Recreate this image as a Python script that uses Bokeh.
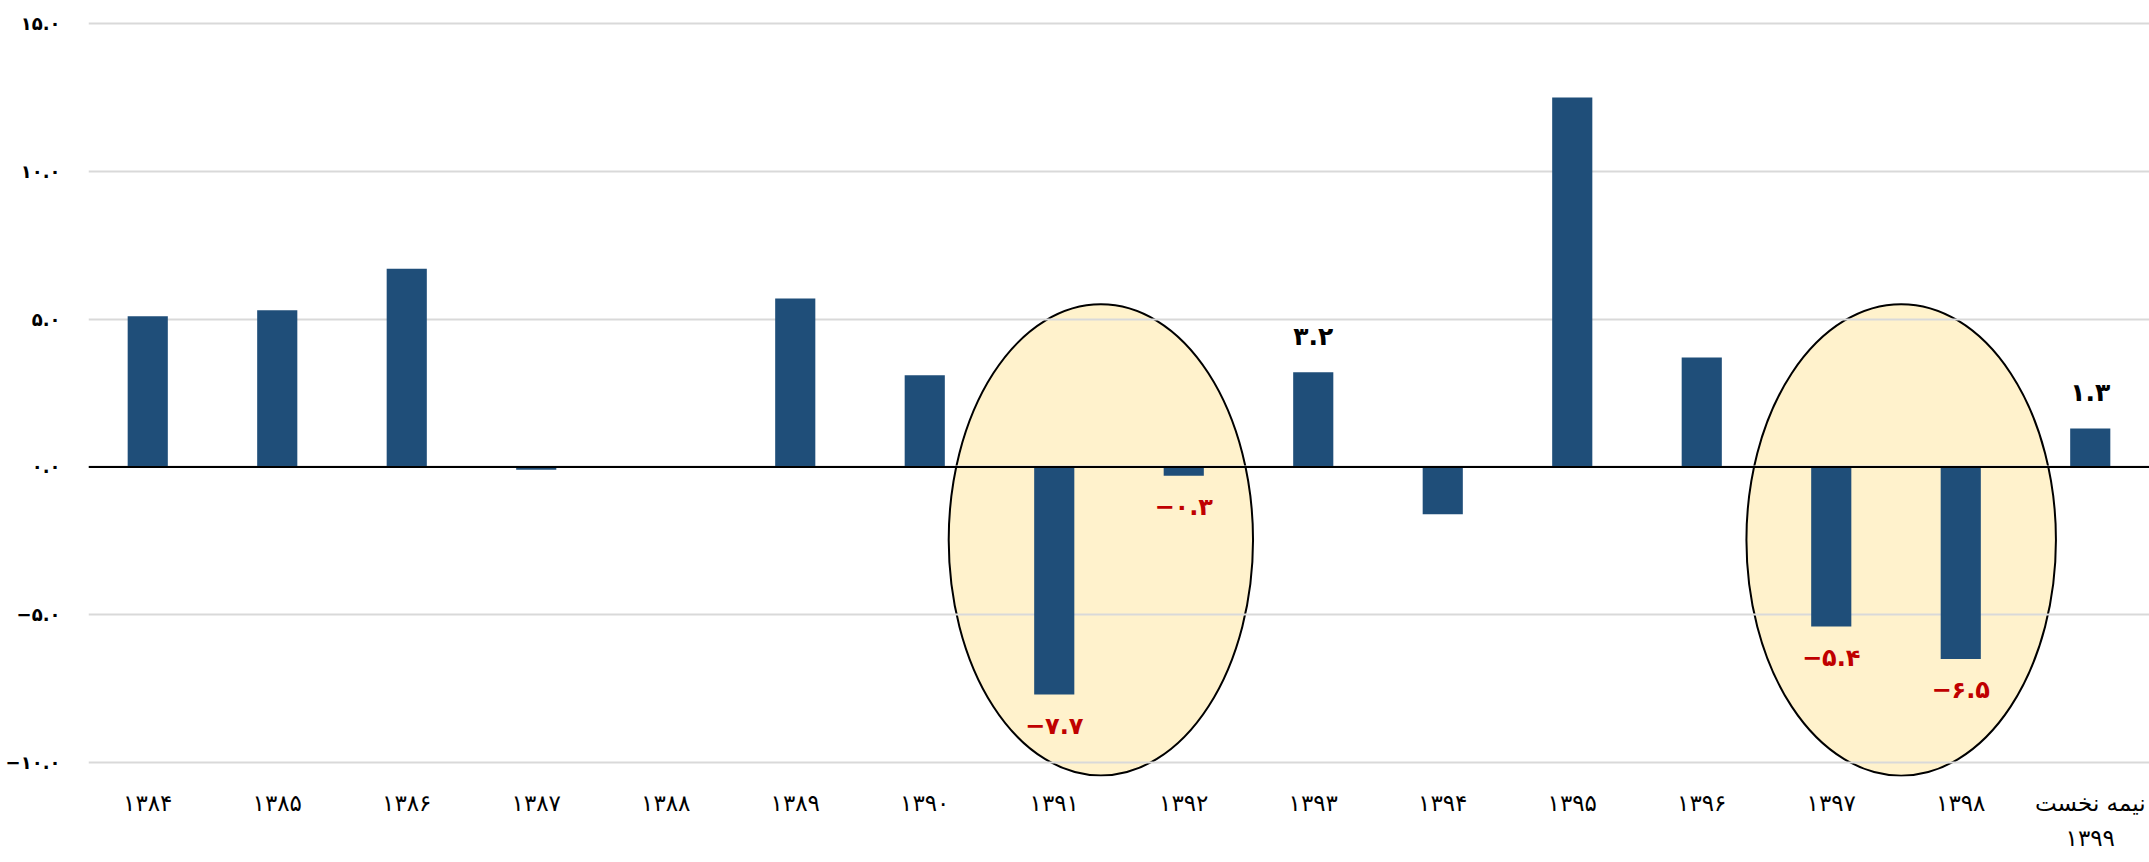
from bokeh.plotting import figure
from bokeh.models import FactorRange, Range1d, Span, FixedTicker, ColumnDataSource
from bokeh.embed import file_html
from bokeh.resources import INLINE
from bokeh.core.properties import value

# ---- data ----
years = ["۱۳۸۴", "۱۳۸۵", "۱۳۸۶", "۱۳۸۷", "۱۳۸۸", "۱۳۸۹", "۱۳۹۰", "۱۳۹۱",
         "۱۳۹۲", "۱۳۹۳", "۱۳۹۴", "۱۳۹۵", "۱۳۹۶", "۱۳۹۷", "۱۳۹۸", "نیمه نخست\n۱۳۹۹"]
growth = [5.1, 5.3, 6.7, -0.1, 0.0, 5.7, 3.1, -7.7, -0.3, 3.2, -1.6, 12.5, 3.7, -5.4, -6.5, 1.3]

pos_label_cats = ["۱۳۹۳", "نیمه نخست\n۱۳۹۹"]
pos_label_vals = [3.2, 1.3]
pos_label_text = ["۳.۲", "۱.۳"]

neg_label_cats = ["۱۳۹۱", "۱۳۹۲", "۱۳۹۷", "۱۳۹۸"]
neg_label_vals = [-7.7, -0.3, -5.4, -6.5]
neg_label_text = ["−۷.۷", "−۰.۳", "−۵.۴", "−۶.۵"]

y_ticks = [-10, -5, 0, 5, 10, 15]
y_tick_labels = ["−۱۰.۰", "−۵.۰", "۰.۰", "۵.۰", "۱۰.۰", "۱۵.۰"]

FONT = "DejaVu Sans"
BAR = "#1F4E79"
RED = "#C00000"

p = figure(
    x_range=FactorRange(*years, range_padding=-0.0425, range_padding_units="absolute"),
    y_range=Range1d(-10.474, 15.44),
    width=2149, height=862,
    output_backend="svg", toolbar_location=None,
    min_border_left=88, min_border_right=0, min_border_top=10, min_border_bottom=86,
)
p.outline_line_color = None
p.background_fill_color = "white"

# highlight ellipses (drawn below the grid)
p.ellipse(x=[7.86, 14.04], y=[-2.47, -2.47], width=[2.35, 2.39], height=[15.95, 15.95],
          fill_color="#FFF2CC", line_color="black", line_width=2, level="image")

src = ColumnDataSource(dict(x=years, top=growth))
p.vbar(x="x", top="top", bottom=0, width=0.31, source=src,
       fill_color=BAR, line_color=None)

p.add_layout(Span(location=0, dimension="width", line_color="black", line_width=2))

# value labels
pos_src = ColumnDataSource(dict(x=pos_label_cats, y=[v + 1.2 for v in pos_label_vals], t=pos_label_text))
p.text(x="x", y="y", text="t", source=pos_src, text_align="center", text_baseline="middle",
       text_font=value(FONT), text_font_size="25px", text_font_style="bold", text_color="black")

neg_src = ColumnDataSource(dict(x=neg_label_cats, y=[v - 1.05 for v in neg_label_vals], t=neg_label_text))
p.text(x="x", y="y", text="t", source=neg_src, text_align="center", text_baseline="middle",
       text_font=value(FONT), text_font_size="24px", text_font_style="bold", text_color=RED)

# axes
p.yaxis.ticker = FixedTicker(ticks=y_ticks)
p.yaxis.major_label_overrides = {t: l for t, l in zip(y_ticks, y_tick_labels)}
p.yaxis.axis_line_color = None
p.yaxis.major_tick_line_color = None
p.yaxis.minor_tick_line_color = None
p.yaxis.major_label_text_font = FONT
p.yaxis.major_label_text_font_size = "18px"
p.yaxis.major_label_text_font_style = "bold"
p.yaxis.major_label_text_color = "black"
p.yaxis.major_label_standoff = 22

p.xaxis.axis_line_color = None
p.xaxis.major_tick_line_color = None
p.xaxis.minor_tick_line_color = None
p.xaxis.major_label_text_font = FONT
p.xaxis.major_label_text_font_size = "23px"
p.xaxis.major_label_text_line_height = 1.36
p.xaxis.major_label_text_color = "black"
p.xaxis.major_label_standoff = 7

p.xgrid.grid_line_color = None
p.ygrid.grid_line_color = "#D9D9D9"
p.ygrid.grid_line_width = 2
p.ygrid.ticker = FixedTicker(ticks=y_ticks)

open("out.html", "w").write(file_html(p, INLINE))
